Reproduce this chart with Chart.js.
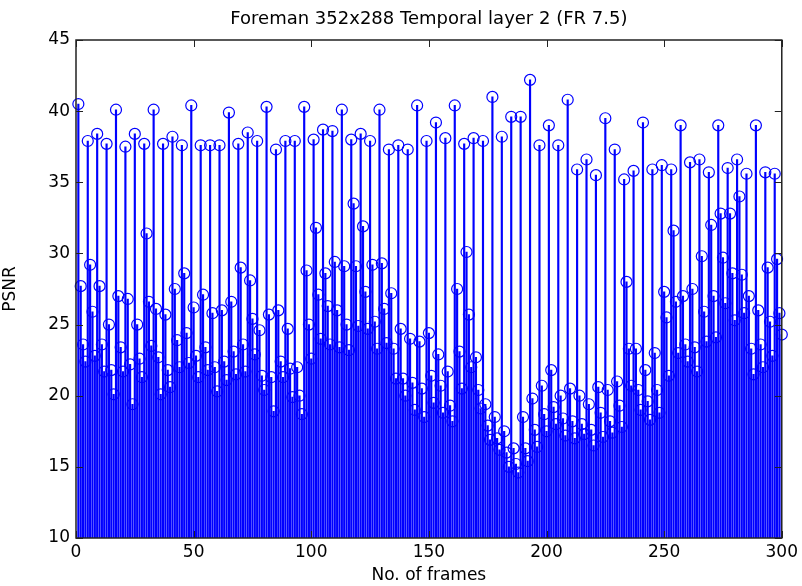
<!DOCTYPE html>
<html>
<head>
<meta charset="utf-8">
<script src="https://cdn.jsdelivr.net/npm/chart.js@4.4.0/dist/chart.umd.min.js"></script>
<style>
  html, body { margin: 0; padding: 0; background: #fff; }
  canvas { display: block; }
</style>
</head>
<body>
<canvas id="psnrChart" width="802" height="586"></canvas>
<script>
// PSNR per frame (frames 1..300, groups of 4: decoded frame then 3 skipped)
const psnr = [
  40.5, 27.7, 23.6, 22.4,   37.9, 29.2, 25.9, 22.8,   38.4, 27.7, 23.6, 21.7,   37.7, 25.0, 21.8, 20.1,
  40.1, 27.0, 23.4, 21.7,   37.5, 26.8, 22.2, 19.4,   38.4, 25.0, 22.6, 21.3,   37.7, 31.4, 26.6, 23.5,
  40.1, 26.1, 22.7, 20.1,   37.7, 25.7, 21.8, 20.6,   38.2, 27.5, 23.9, 22.0,   37.6, 28.6, 24.4, 22.3,
  40.4, 26.2, 22.8, 21.3,   37.6, 27.1, 23.4, 21.8,   37.6, 25.8, 22.0, 20.3,   37.6, 26.0, 22.4, 21.1,
  39.9, 26.6, 23.1, 21.5,   37.7, 29.0, 23.6, 21.7,   38.5, 28.1, 25.4, 22.9,   37.9, 24.6, 21.4, 20.4,
  40.3, 25.7, 21.3, 18.9,   37.3, 26.0, 22.4, 21.3,   37.9, 24.7, 21.9, 19.9,   37.9, 22.0, 20.0, 18.7,
  40.3, 28.8, 25.0, 22.6,   38.0, 31.8, 27.1, 24.0,   38.7, 28.6, 26.3, 23.6,   38.6, 29.4, 26.0, 23.4,
  40.1, 29.1, 25.0, 23.2,   38.0, 33.5, 29.1, 24.9,   38.4, 31.9, 27.3, 24.7,   37.9, 29.2, 25.2, 23.3,
  40.1, 29.3, 26.1, 23.7,   37.3, 27.2, 23.3, 21.2,   37.6, 24.7, 21.2, 20.0,   37.3, 24.0, 20.9, 19.0,
  40.4, 23.8, 20.5, 18.5,   37.9, 24.4, 21.4, 19.5,   39.2, 22.9, 20.7, 18.8,   38.1, 21.7, 19.3, 18.2,
  40.4, 27.5, 23.1, 20.5,   37.7, 30.1, 25.7, 22.0,   38.1, 22.7, 20.4, 19.1,   37.9, 19.4, 17.9, 16.9,
  41.0, 18.5, 17.0, 16.2,   38.2, 17.5, 16.0, 15.0,   39.6, 16.3, 15.2, 14.6,   39.6, 18.5, 16.3, 15.4,
  42.2, 19.8, 17.6, 16.4,   37.6, 20.7, 18.7, 17.5,   39.0, 21.8, 19.2, 18.0,   37.6, 20.0, 18.4, 17.2,
  40.8, 20.5, 18.2, 17.0,   35.9, 20.0, 18.0, 17.3,   36.6, 19.4, 17.6, 16.5,   35.5, 20.6, 18.8, 17.1,
  39.5, 20.4, 18.2, 17.4,   37.3, 21.0, 19.3, 17.8,   35.2, 28.0, 23.3, 20.7,   35.8, 23.3, 20.4, 19.0,
  39.2, 21.8, 19.6, 18.3,   35.9, 23.0, 20.4, 18.8,   36.2, 27.3, 25.5, 21.4,   35.9, 31.6, 26.6, 23.0,
  39.0, 27.0, 23.6, 22.4,   36.4, 27.5, 23.4, 21.7,   36.6, 29.8, 25.9, 23.8,   35.7, 32.0, 27.0, 24.1,
  39.0, 32.8, 29.7, 26.5,   36.0, 32.8, 28.6, 25.3,   36.6, 34.0, 28.5, 25.8,   35.6, 27.0, 23.3, 21.5,
  39.0, 26.0, 23.6, 22.0,   35.7, 29.0, 25.2, 22.8,   35.6, 29.6, 25.8, 24.3
];
const frames = psnr.map((_, i) => i + 1);
const xTicks = [0, 50, 100, 150, 200, 250, 300];
const yTicks = [10, 15, 20, 25, 30, 35, 40, 45];
const chartTitle = 'Foreman 352x288 Temporal layer 2 (FR 7.5)';

const FONT = 'DejaVu Sans';
const BLUE = 'rgb(0, 0, 255)';

// MATLAB-like box with inward tick marks, title centred over the axes
const boxPlugin = {
  id: 'box',
  afterDraw(chart) {
    const { ctx, chartArea: a, scales: { x, y } } = chart;
    ctx.save();
    ctx.strokeStyle = '#222';
    ctx.lineWidth = 1.5;
    ctx.strokeRect(a.left, a.top, a.right - a.left, a.bottom - a.top);
    ctx.lineWidth = 1;
    ctx.beginPath();
    xTicks.forEach(v => {
      const px = Math.round(x.getPixelForValue(v)) + 0.5;
      ctx.moveTo(px, a.bottom); ctx.lineTo(px, a.bottom - 7);
      ctx.moveTo(px, a.top); ctx.lineTo(px, a.top + 7);
    });
    yTicks.forEach(v => {
      const py = Math.round(y.getPixelForValue(v)) + 0.5;
      ctx.moveTo(a.left, py); ctx.lineTo(a.left + 7, py);
      ctx.moveTo(a.right, py); ctx.lineTo(a.right - 7, py);
    });
    ctx.stroke();

    ctx.fillStyle = '#000';
    ctx.font = '18px "' + FONT + '"';
    ctx.textAlign = 'center';
    ctx.textBaseline = 'middle';
    ctx.fillText(chartTitle, (a.left + a.right) / 2, 19);
    ctx.restore();
  }
};

new Chart('psnrChart', {
  type: 'bar',
  data: {
    datasets: [
      {
        type: 'bar',
        data: frames.map((f, i) => ({ x: f, y: [10, psnr[i]] })),
        backgroundColor: BLUE,
        barThickness: 1.5,
        order: 2
      },
      {
        type: 'line',
        data: frames.map((f, i) => ({ x: f, y: psnr[i] })),
        showLine: false,
        pointStyle: 'circle',
        pointRadius: 5.5,
        pointBorderWidth: 1.2,
        pointBorderColor: BLUE,
        pointBackgroundColor: 'rgba(0,0,0,0)',
        clip: false,
        order: 1
      }
    ]
  },
  options: {
    responsive: false,
    animation: false,
    events: [],
    layout: { padding: { left: 0, right: 18, top: 40, bottom: 0 } },
    plugins: {
      legend: { display: false },
      tooltip: { enabled: false },
      title: { display: false }
    },
    scales: {
      x: {
        type: 'linear',
        min: 0,
        max: 300,
        offset: false,
        grid: { display: false, drawTicks: false },
        border: { display: false },
        afterBuildTicks: s => { s.ticks = xTicks.map(v => ({ value: v })); },
        afterFit: s => { s.height = 48; },
        ticks: { color: '#000', padding: 4, font: { family: FONT, size: 17 }, maxRotation: 0 },
        title: {
          display: true,
          text: 'No. of frames',
          color: '#000',
          font: { family: FONT, size: 17 },
          padding: { top: 2, bottom: 0 }
        }
      },
      y: {
        min: 10,
        max: 45,
        grid: { display: false, drawTicks: false },
        border: { display: false },
        afterBuildTicks: s => { s.ticks = yTicks.map(v => ({ value: v })); },
        afterFit: s => { s.width = 76; },
        ticks: { color: '#000', padding: 6, font: { family: FONT, size: 17 } },
        title: {
          display: true,
          text: 'PSNR',
          color: '#000',
          font: { family: FONT, size: 17 },
          padding: { top: 0, bottom: 0 }
        }
      }
    }
  },
  plugins: [boxPlugin]
});
</script>
</body>
</html>
